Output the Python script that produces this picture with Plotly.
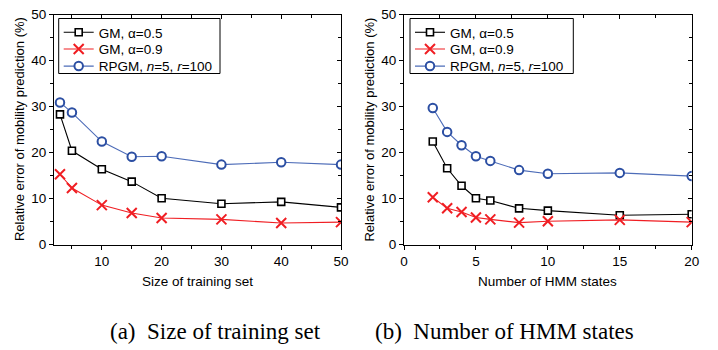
import plotly.graph_objects as go

# Panel (a): size of training set
train_size = [3, 5, 10, 15, 20, 30, 40, 50]
a_gm05 = [28.3, 20.4, 16.4, 13.7, 10.1, 8.9, 9.3, 8.1]
a_gm09 = [15.3, 12.3, 8.6, 6.9, 5.8, 5.5, 4.7, 4.9]
a_rpgm = [30.9, 28.7, 22.4, 19.1, 19.2, 17.4, 17.9, 17.4]

# Panel (b): number of HMM states
hmm_states = [2, 3, 4, 5, 6, 8, 10, 15, 20]
b_gm05 = [22.4, 16.6, 12.8, 10.1, 9.6, 7.9, 7.4, 6.4, 6.6]
b_gm09 = [10.3, 7.9, 7.1, 5.9, 5.5, 4.8, 5.1, 5.4, 4.9]
b_rpgm = [29.7, 24.5, 21.6, 19.2, 18.2, 16.2, 15.4, 15.6, 14.9]

series_names = ["GM, α=0.5", "GM, α=0.9", "RPGM, <i>n</i>=5, <i>r</i>=100"]
y_title = "Relative error of mobility prediction (%)"
x_titles = ["Size of training set", "Number of HMM states"]
captions = ["(a)  Size of training set", "(b)  Number of HMM states"]

BLACK = "#000000"
RED = "#f01e23"
BLUE_LINE = "#4d6cb8"
BLUE_MK = "#2c4fa3"
FONT = "Liberation Sans"

# page has an 8px body margin; lay out in reference-pixel coordinates
OFF = 8
W, H = 718 - OFF, 350 - OFF
def px(x):
    return (x - OFF) / W
def py(y):
    return 1 - (y - OFF) / H

xdom = [[px(54), px(341)], [px(404), px(691.7)]]
ydom = [py(244.7), py(14.5)]
xranges = [[2, 50], [0, 20]]
xdt = [10, 5]
xminor = [5, 2.5]

# legend box geometry (reference pixels)
leg_boxes = [(58.7, 18.5, 220.0, 73.5), (410.0, 18.5, 573.3, 73.5)]
leg_rows = [32.5, 49.3, 66.3]

fig = go.Figure()

styles = [
    dict(color=BLACK, symbol="square", mfill="white", mline=BLACK, size=7, lw=1.6),
    dict(color=RED, symbol="x-thin", mfill=RED, mline=RED, size=10, lw=2),
    dict(color=BLUE_LINE, symbol="circle", mfill="white", mline=BLUE_MK, size=8.5, lw=2),
]

panels = [
    (train_size, [a_gm05, a_gm09, a_rpgm]),
    (hmm_states, [b_gm05, b_gm09, b_rpgm]),
]

legend_layout = {}
for p, (xs, ys_list) in enumerate(panels):
    xa = "x" if p == 0 else "x2"
    ya = "y" if p == 0 else "y2"
    for k, (name, ys, st) in enumerate(zip(series_names, ys_list, styles)):
        idx = p * 3 + k + 1
        leg = "legend" if idx == 1 else f"legend{idx}"
        fig.add_trace(go.Scatter(
            x=xs, y=ys, name=name, mode="lines+markers",
            xaxis=xa, yaxis=ya, legend=leg,
            line=dict(color=st["color"], width=1.1),
            marker=dict(symbol=st["symbol"], size=st["size"], color=st["mfill"],
                        line=dict(color=st["mline"], width=st["lw"])),
        ))
        legend_layout[leg] = dict(
            x=px(leg_boxes[p][0]), y=py(leg_rows[k]),
            xanchor="left", yanchor="middle",
            bgcolor="rgba(0,0,0,0)", borderwidth=0,
            font=dict(family=FONT, size=13.5, color="black"),
            itemwidth=30,
        )

# dummy traces for the inside-tick mirror axes
for ax_x, ax_y in [("x3", "y3"), ("x4", "y4")]:
    fig.add_trace(go.Scatter(x=[None], y=[None], xaxis=ax_x, yaxis=ax_y,
                             showlegend=False, hoverinfo="skip"))

tickfont = dict(family=FONT, size=13.5, color="black")

def base_x(i, anchor):
    return dict(domain=xdom[i], range=xranges[i], anchor=anchor, dtick=xdt[i], tick0=0,
                showgrid=False, zeroline=False, showline=True, linecolor="black", linewidth=1,
                ticks="outside", ticklen=4, tickwidth=1, tickcolor="black",
                minor=dict(dtick=xminor[i], tick0=0, ticks="outside", ticklen=3,
                           tickwidth=1, tickcolor="black", showgrid=False),
                tickfont=tickfont, automargin=False, fixedrange=True,
                ticklabeloverflow="allow")

def base_y(anchor):
    return dict(domain=ydom, range=[0, 50], anchor=anchor, dtick=10, tick0=0,
                showgrid=False, zeroline=False, showline=True, linecolor="black", linewidth=1,
                ticks="outside", ticklen=4, tickwidth=1, tickcolor="black",
                minor=dict(dtick=5, tick0=0, ticks="outside", ticklen=3,
                           tickwidth=1, tickcolor="black", showgrid=False),
                tickfont=tickfont, automargin=False, fixedrange=True,
                ticklabeloverflow="allow")

def mirror_x(i, over, anchor):
    d = base_x(i, anchor)
    d.update(overlaying=over, side="top", ticks="inside", showticklabels=False)
    d["minor"]["ticks"] = "inside"
    return d

def mirror_y(over, anchor):
    d = base_y(anchor)
    d.update(overlaying=over, side="right", ticks="inside", showticklabels=False)
    d["minor"]["ticks"] = "inside"
    return d

annotations = []
ytitle_x = [19.5, 370]
for i in range(2):
    annotations.append(dict(text=x_titles[i], xref="paper", yref="paper",
                            x=(xdom[i][0] + xdom[i][1]) / 2, y=py(281),
                            showarrow=False, xanchor="center", yanchor="middle",
                            font=dict(family=FONT, size=13.5, color="black")))
    annotations.append(dict(text=y_title, xref="paper", yref="paper",
                            x=px(ytitle_x[i]), y=(ydom[0] + ydom[1]) / 2,
                            textangle=-90, showarrow=False,
                            xanchor="center", yanchor="middle",
                            font=dict(family=FONT, size=13, color="black")))
annotations.append(dict(text=captions[0], xref="paper", yref="paper", x=px(215), y=py(331),
                        showarrow=False, xanchor="center", yanchor="middle",
                        font=dict(family="Liberation Serif", size=23, color="black")))
annotations.append(dict(text=captions[1], xref="paper", yref="paper", x=px(504.5), y=py(331),
                        showarrow=False, xanchor="center", yanchor="middle",
                        font=dict(family="Liberation Serif", size=23, color="black")))

shapes = []
for (x0, y0, x1, y1) in leg_boxes:
    shapes.append(dict(type="rect", xref="paper", yref="paper",
                       x0=px(x0), x1=px(x1), y0=py(y1), y1=py(y0),
                       line=dict(color="black", width=1), fillcolor="white",
                       layer="below"))

fig.update_layout(
    width=W, height=H,
    margin=dict(l=0, r=0, t=0, b=0),
    paper_bgcolor="white", plot_bgcolor="rgba(0,0,0,0)",
    xaxis=base_x(0, "y"), yaxis=base_y("x"),
    xaxis2=base_x(1, "y2"), yaxis2=base_y("x2"),
    xaxis3=mirror_x(0, "x", "y"), yaxis3=mirror_y("y", "x"),
    xaxis4=mirror_x(1, "x2", "y2"), yaxis4=mirror_y("y2", "x2"),
    annotations=annotations,
    shapes=shapes,
    showlegend=True,
    **legend_layout,
)

fig.write_html("out.html")
